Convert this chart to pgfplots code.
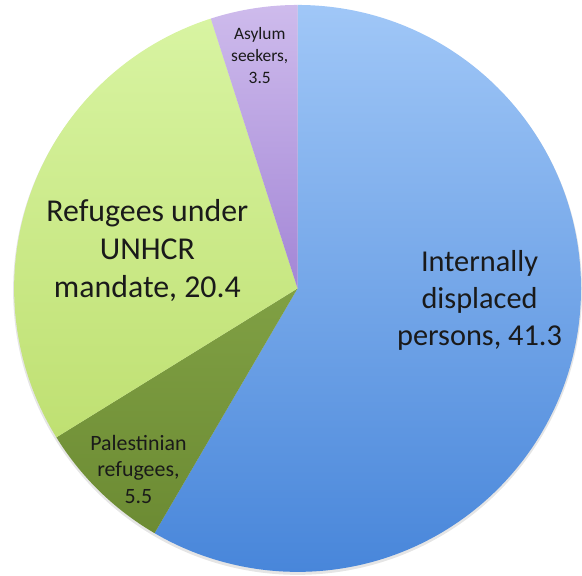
\documentclass[border=0pt]{standalone}
\usepackage{pgfplots}
\pgfplotsset{compat=1.18}
\usepackage{fontspec}
\setmainfont{Carlito}
\definecolor{idpTop}{HTML}{A0C7F7}
\definecolor{idpBot}{HTML}{4886DA}
\definecolor{refTop}{HTML}{D8F4A2}
\definecolor{refBot}{HTML}{BFE072}
\definecolor{palTop}{HTML}{80A044}
\definecolor{palBot}{HTML}{6C8B33}
\definecolor{asyTop}{HTML}{CEBBEC}
\definecolor{asyBot}{HTML}{A386D6}
\definecolor{txt}{HTML}{1A1A1A}
\begin{document}
\begin{tikzpicture}
% data (millions)
\def\vIDP{41.3}
\def\vPal{5.5}
\def\vRef{20.4}
\def\vAsy{3.5}
\pgfmathsetmacro{\tot}{\vIDP+\vPal+\vRef+\vAsy}
\pgfmathsetmacro{\aA}{90}
\pgfmathsetmacro{\aB}{\aA-360*\vIDP/\tot}
\pgfmathsetmacro{\aC}{\aB-360*\vPal/\tot}
\pgfmathsetmacro{\aD}{\aC-360*\vRef/\tot}
\pgfmathsetmacro{\aE}{\aD-360*\vAsy/\tot}
\begin{axis}[hide axis, scale only axis, width=582bp, height=579bp,
  xmin=0, xmax=582, ymin=0, ymax=579, clip=false]
\path (axis cs:0,0) rectangle (axis cs:582,579);
\fill[black!10] (axis cs:297,287) circle[radius=286bp];
\path[top color=idpTop, bottom color=idpBot] (axis cs:297,289) -- ++(\aA:285bp) arc[start angle=\aA, end angle=\aB, radius=285bp] -- cycle;
\path[top color=palTop, bottom color=palBot] (axis cs:297,289) -- ++(\aB:285bp) arc[start angle=\aB, end angle=\aC, radius=285bp] -- cycle;
\path[top color=refTop, bottom color=refBot] (axis cs:297,289) -- ++(\aC:285bp) arc[start angle=\aC, end angle=\aD, radius=285bp] -- cycle;
\path[top color=asyTop, bottom color=asyBot] (axis cs:297,289) -- ++(\aD:285bp) arc[start angle=\aD, end angle=\aE, radius=285bp] -- cycle;
\node[txt, align=center, font=\fontsize{30.5bp}{37bp}\selectfont] at (axis cs:480,277) {Internally\\displaced\\persons, 41.3};
\node[txt, align=center, font=\fontsize{32bp}{38.5bp}\selectfont] at (axis cs:146,327) {Refugees under\\UNHCR\\mandate, 20.4};
\node[txt, align=center, font=\fontsize{22bp}{27bp}\selectfont] at (axis cs:137,107) {Palestinian\\refugees,\\5.5};
\node[txt, align=center, font=\fontsize{17.5bp}{22bp}\selectfont] at (axis cs:259,523) {Asylum\\seekers,\\3.5};
\end{axis}
\end{tikzpicture}
\end{document}
